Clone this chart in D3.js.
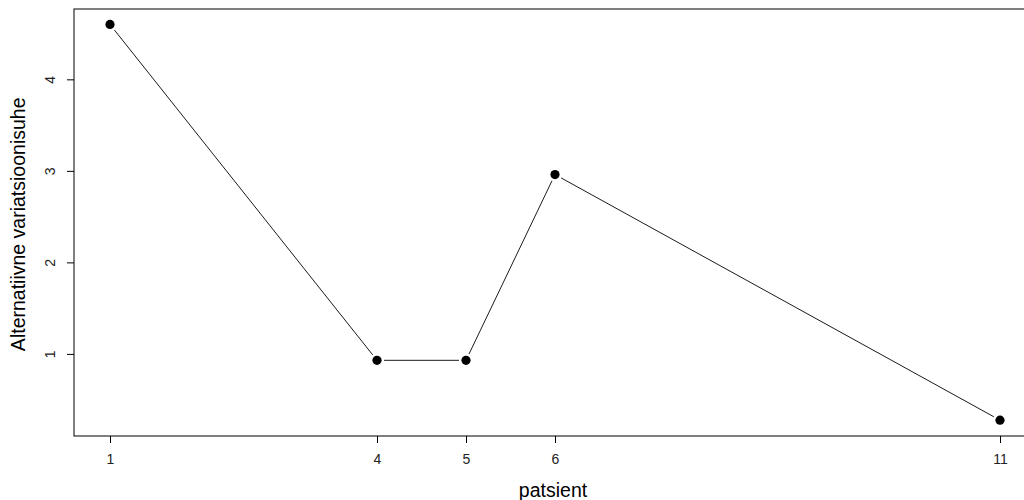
<!DOCTYPE html>
<html>
<head>
<meta charset="utf-8">
<script src="https://cdn.jsdelivr.net/npm/d3@7"></script>
<style>
  html, body { margin: 0; padding: 0; background: #fff; }
  svg { display: block; }
  text { font-family: "Liberation Sans", Arial, sans-serif; }
</style>
</head>
<body>
<script>
const patients = [1, 4, 5, 6, 11];
const values = [4.60, 0.93, 0.93, 2.96, 0.276];
const xTickLabels = ["1", "4", "5", "6", "11"];
const yTicks = [1, 2, 3, 4];
const xTitle = "patsient";
const yTitle = "Alternatiivne variatsioonisuhe";

(function () {
const W = 1024, H = 500;
const svg = d3.select("body").append("svg").attr("width", W).attr("height", H);

const xMin = d3.min(patients), xMax = d3.max(patients);
const xPad = (xMax - xMin) * 0.04;
const yMin = d3.min(values), yMax = d3.max(values);
const yPad = (yMax - yMin) * 0.04;

const pLeft = 74.4, pRight = 1035.6, pTop = 8.6, pBottom = 436;
const x = d3.scaleLinear().domain([xMin - xPad, xMax + xPad]).range([pLeft, pRight]);
const y = d3.scaleLinear().domain([yMin - yPad, yMax + yPad]).range([pBottom, pTop]);

// box
svg.append("rect")
  .attr("x", Math.round(pLeft)).attr("y", Math.round(pTop))
  .attr("width", Math.round(pRight) - Math.round(pLeft))
  .attr("height", Math.round(pBottom) - Math.round(pTop))
  .attr("fill", "none").attr("stroke", "#000").attr("stroke-width", 1);

// x axis
const xAxis = d3.axisBottom(x).tickValues(patients)
  .tickFormat((d, i) => xTickLabels[i]).tickSizeInner(7).tickSizeOuter(0).tickPadding(11);
const gx = svg.append("g").attr("transform", `translate(0,${Math.round(pBottom)})`).call(xAxis);
gx.attr("font-size", null).attr("font-family", null);
gx.select(".domain").remove();
gx.selectAll("text").attr("fill", "#222")
  .style("font-size", "14px")
  .style("font-family", '"Liberation Sans", Arial, sans-serif');
gx.selectAll("line").attr("stroke", "#000");

// y axis
const yAxis = d3.axisLeft(y).tickValues(yTicks).tickFormat(d3.format("d"))
  .tickSizeInner(7).tickSizeOuter(0).tickPadding(0);
const gy = svg.append("g").attr("transform", `translate(${Math.round(pLeft)},0)`).call(yAxis);
gy.attr("font-size", null).attr("font-family", null);
gy.select(".domain").remove();
gy.selectAll("line").attr("stroke", "#000");
gy.selectAll("text")
  .attr("fill", "#222")
  .attr("x", 0).attr("y", 0).attr("dy", "0.35em")
  .attr("text-anchor", "middle")
  .attr("transform", "translate(-24,0) rotate(-90)")
  .style("font-size", "14px")
  .style("font-family", '"Liberation Sans", Arial, sans-serif');

// lines with gaps (type "b")
const pts = patients.map((p, i) => [x(p), y(values[i])]);
const gap = 7;
const segs = [];
for (let i = 0; i < pts.length - 1; i++) {
  const [x0, y0] = pts[i], [x1, y1] = pts[i + 1];
  const dx = x1 - x0, dy = y1 - y0, L = Math.hypot(dx, dy);
  if (L > 2 * gap) {
    segs.push([x0 + dx / L * gap, y0 + dy / L * gap, x1 - dx / L * gap, y1 - dy / L * gap]);
  }
}
svg.append("g").selectAll("line").data(segs).join("line")
  .attr("x1", d => d[0]).attr("y1", d => d[1])
  .attr("x2", d => d[2]).attr("y2", d => d[3])
  .attr("stroke", "#000").attr("stroke-width", 0.9);

svg.append("g").selectAll("circle").data(patients).join("circle")
  .attr("cx", d => x(d)).attr("cy", (d, i) => y(values[i]))
  .attr("r", 4.6).attr("fill", "#000");

// titles
svg.append("text").attr("x", (pLeft + pRight) / 2 - 2).attr("y", 497)
  .attr("text-anchor", "middle").style("font-size", "19.5px").attr("fill", "#000").text(xTitle);
svg.append("text")
  .attr("transform", `translate(25,${(pTop + pBottom) / 2 + 2}) rotate(-90)`)
  .attr("text-anchor", "middle").style("font-size", "19.5px").attr("fill", "#000").text(yTitle);
})();
</script>
</body>
</html>
